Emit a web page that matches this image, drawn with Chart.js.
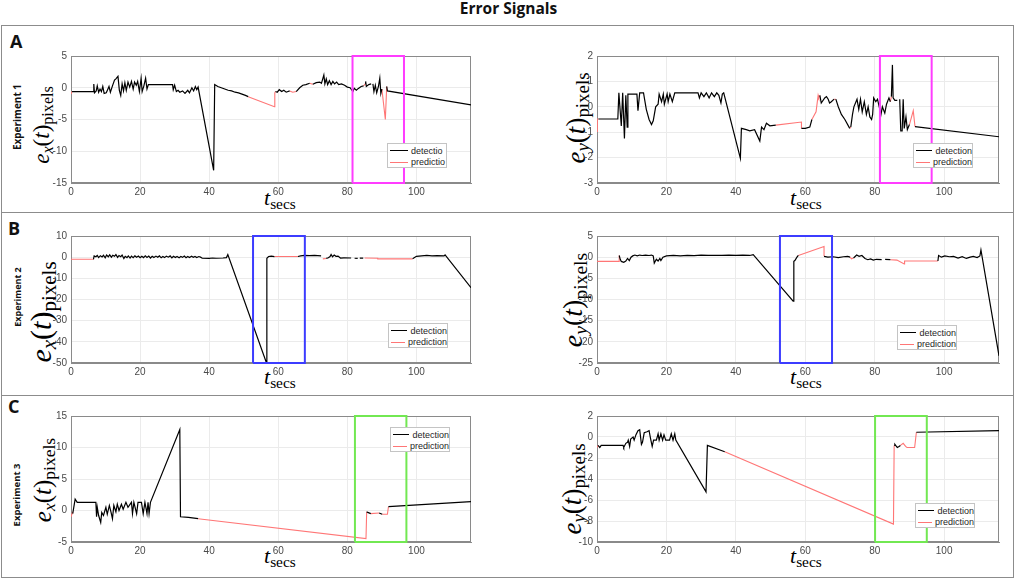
<!DOCTYPE html>
<html>
<head>
<meta charset="utf-8">
<title>Error Signals</title>
<script src="https://cdn.jsdelivr.net/npm/chart.js@4.4.1/dist/chart.umd.min.js"></script>
<style>
    html, body { margin: 0; padding: 0; background: #fff; }
    #fig { position: relative; width: 1017px; height: 580px; overflow: hidden; }
    .title { position: absolute; left: 0; top: 1px; width: 1017px; text-align: center;
             font: 700 15.5px "Open Sans", sans-serif; line-height: 1; color: #111; }
    .row { position: absolute; left: 1px; width: 1013px; box-sizing: border-box; border: 1px solid #8c8c8c; }
    .letter { position: absolute; font: 700 18px "Open Sans", sans-serif; line-height: 1; color: #111; }
    .exp { position: absolute; font-family: "Open Sans", sans-serif; font-weight: 700; color: #111;
           white-space: nowrap; line-height: 1; transform: translate(-50%, -50%) rotate(-90deg); }
    canvas { position: absolute; }
    .ylab { position: absolute; white-space: nowrap; font-family: "Liberation Serif", serif; color: #000;
            line-height: 1; transform: translate(-50%, -50%) rotate(-90deg); }
    .xlab { position: absolute; white-space: nowrap; font-family: "Liberation Serif", serif; color: #000;
            line-height: 1; font-size: 22px; }
    .sub { font-size: 0.7em; vertical-align: -0.25em; }
    .legend { position: absolute; width: 60px; height: 25px; box-sizing: border-box; background: #fff;
              border: 1px solid #c4c4c4; padding: 1px 0 0 2px;
              font: 9px "Liberation Sans", Arial, sans-serif; color: #262626; }
    .legend div { height: 11.5px; display: flex; align-items: center; white-space: nowrap; }
    .legend .swatch { display: inline-block; width: 18px; margin-right: 3px; border-top: 1.5px solid #000; }
    .legend .pred { border-top: 1px solid #ff7676; }
</style>
</head>
<body>
<div id="fig">
    <div class="title">Error Signals</div>

    <div class="row" style="top:25px;height:188px"></div>
    <div class="row" style="top:212px;height:184px"></div>
    <div class="row" style="top:395px;height:183px"></div>

    <div class="letter" style="left:10px;top:32px">A</div>
    <div class="letter" style="left:8px;top:219px">B</div>
    <div class="letter" style="left:8px;top:397px">C</div>

    <div class="exp" style="left:17px;top:117px;font-size:10px">Experiment 1</div>
    <div class="exp" style="left:17px;top:297px;font-size:9px">Experiment 2</div>
    <div class="exp" style="left:17px;top:495px;font-size:9.5px">Experiment 3</div>

    <!-- y axis titles -->
    <div class="ylab" style="left:43px;top:125px;font-size:23px"><i>e</i><span class="sub"><i>x</i></span>(<i>t</i>)<span class="sub">pixels</span></div>
    <div class="ylab" style="left:578px;top:118px;font-size:27px"><i>e</i><span class="sub"><i>y</i></span>(<i>t</i>)<span class="sub">pixels</span></div>
    <div class="ylab" style="left:43px;top:312px;font-size:30px"><i>e</i><span class="sub"><i>x</i></span>(<i>t</i>)<span class="sub">pixels</span></div>
    <div class="ylab" style="left:575px;top:300px;font-size:28px"><i>e</i><span class="sub"><i>y</i></span>(<i>t</i>)<span class="sub">pixels</span></div>
    <div class="ylab" style="left:44px;top:480px;font-size:25px"><i>e</i><span class="sub"><i>x</i></span>(<i>t</i>)<span class="sub">pixels</span></div>
    <div class="ylab" style="left:574px;top:489px;font-size:27px"><i>e</i><span class="sub"><i>y</i></span>(<i>t</i>)<span class="sub">pixels</span></div>

    <!-- x axis titles -->
    <div class="xlab" style="left:264px;top:187px"><i>t</i><span class="sub">secs</span></div>
    <div class="xlab" style="left:790px;top:187px"><i>t</i><span class="sub">secs</span></div>
    <div class="xlab" style="left:264px;top:366px"><i>t</i><span class="sub">secs</span></div>
    <div class="xlab" style="left:790px;top:366px"><i>t</i><span class="sub">secs</span></div>
    <div class="xlab" style="left:264px;top:545px"><i>t</i><span class="sub">secs</span></div>
    <div class="xlab" style="left:790px;top:545px"><i>t</i><span class="sub">secs</span></div>
</div>

<script>
// ---------------- data ----------------
const xMax = 115.8;
const xTickStep = 20;

// axis limits: [min, max, step]
const ex1Limits = [-15, 5, 5];
const ey1Limits = [-3, 2, 1];
const ex2Limits = [-50, 10, 10];
const ey2Limits = [-25, 5, 5];
const ex3Limits = [-5, 15, 5];
const ey3Limits = [-10, 2, 2];

// highlighted time windows [start, end] in secs
const exp1Window = [81.5, 96.4];
const exp2Window = [52.7, 67.7];
const ex3Window = [82.2, 97.1];
const ey3Window = [80.1, 95.0];

// legend labels (as printed in each panel)
const legendShort = ['detectio', 'predictio'];
const legendFull = ['detection', 'prediction'];

// series: [t, error], null = gap
const ex1Detection = [
    [0.3,-0.6],[6.4,-0.6],[6.6,0.6],[6.8,-0.8],[7.3,-0.5],[7.6,0.3],[8.0,-0.7],[8.4,-0.2],[8.8,-0.6],[9.2,0.2],
    [9.6,-0.9],[10.2,-0.8],[10.6,-0.3],[11.0,0.2],[11.4,-0.7],[12.0,0.3],[12.6,1.2],[13.0,1.4],[13.6,1.8],[14.0,-0.4],
    [14.4,-1.2],[14.8,0.6],[15.2,-0.5],[15.6,0.8],[16.0,-0.4],[16.5,0.9],[17.0,0.1],[17.5,1.0],[18.0,-0.2],[18.4,0.9],
    [18.9,0.4],[19.3,1.0],[19.8,-0.6],[20.3,1.5],[20.6,-0.6],[21.1,0.3],[21.6,1.5],[22.0,-0.2],[22.4,0.5],[29.4,0.5],
    [29.6,-0.3],[30.0,0.4],[30.5,-0.6],[31.0,-0.4],[31.5,-0.7],[32.3,-0.5],[33.0,-0.9],[33.8,-0.4],[34.3,-0.8],[35.0,0.0],
    [35.5,-0.5],[36.0,0.2],[36.4,-0.3],[36.8,0.1],[41.3,-13.0],[41.6,0.5],[42.5,0.2],[43.5,0.0],[44.5,-0.2],[45.5,-0.4],
    [46.5,-0.5],[47.5,-0.7],[48.5,-0.8],[49.5,-1.0],[50.5,-1.2],[51.3,-1.4],
    null,
    [59.2,-0.6],[59.7,-0.7],[60.3,-0.3],[61.0,-0.6],[61.6,-0.4],[62.3,-0.7],[63.3,-0.5],
    null,
    [65.2,-0.6],[66.2,0.0],[67.1,0.4],[68.0,0.5],[69.1,0.7],
    null,
    [70.0,0.55],[71.0,0.8],[72.0,0.9],[72.5,0.7],[73.2,2.0],[73.5,0.6],[73.9,1.4],[74.3,0.5],[74.8,1.1],[75.3,0.5],
    [75.8,1.0],[76.3,0.6],[76.9,0.9],[77.5,0.5],[78.3,0.6],[79.2,0.4],[80.0,0.1],[80.8,0.0],[81.6,-0.6],[82.0,-0.1],
    [82.6,-0.4],[83.2,-0.1],[84.0,0.2],[84.7,0.3],
    null,
    [85.2,0.6],[85.3,1.0],[85.5,0.2],[86.2,0.5],[86.9,0.6],
    null,
    [87.4,0.6],[87.7,-0.6],[88.1,0.4],[88.5,-0.8],[89.0,0.2],[89.4,1.5],[89.7,-0.9],[90.0,-0.2],
    null,
    [91.4,0.2],[91.6,-0.5],[115.8,-2.7]
];
const ex1Prediction = [
    [0,-1.0],[0.3,-0.6], null,
    [51.3,-1.4],[58.9,-3.0],[59.0,-0.8],[59.2,-0.6], null,
    [63.3,-0.5],[64.2,-0.7],[65.2,-0.6], null,
    [69.1,0.7],[70.0,0.55], null,
    [84.7,0.3],[85.2,0.6], null,
    [90.0,-0.2],[91.0,-5.0],[91.4,0.2]
];

const ey1Detection = [
    [0.4,-0.48],[6.0,-0.48],[6.3,0.55],[7.0,-0.75],[7.4,0.55],[7.9,-1.25],[8.3,0.45],[8.7,-0.8],[8.9,0.5],[11.5,0.5],
    [11.8,-0.15],[12.3,0.55],[13.4,0.55],[13.7,0.3],[14.2,-0.1],[15.0,-0.5],[15.7,-0.7],[16.2,-0.55],[16.9,0.0],[17.6,0.1],
    [17.9,0.5],[18.6,0.2],[19.1,0.5],[19.4,0.1],[20.2,0.5],[20.5,0.2],[21.0,0.5],[21.7,0.2],[22.4,0.55],[29.1,0.55],
    [29.5,0.35],[30.0,0.55],[30.8,0.4],[31.5,0.55],[32.3,0.35],[33.0,0.55],[33.8,0.4],[34.5,0.55],[35.1,0.45],[35.7,0.15],
    [36.1,0.5],[36.5,0.55],[41.3,-2.03],[41.6,-0.85],[43.0,-0.9],[44.0,-0.95],[45.4,-0.9],[46.9,-1.35],[47.4,-0.8],[48.1,-0.9],
    [48.8,-0.65],[49.8,-0.75],[51.5,-0.72],
    null,
    [58.9,-0.85],[60.0,-0.85],[61.3,-0.8],[61.9,-0.5],
    null,
    [64.2,0.45],[64.6,0.15],[65.6,0.35],[66.1,0.4],[66.6,0.3],[67.0,0.15],[67.5,0.2],[68.3,0.3],
    null,
    [68.8,0.3],[69.5,0.0],[70.4,-0.3],[71.4,-0.5],[72.8,-0.85],
    null,
    [73.1,-0.8],[73.6,-0.3],[74.0,0.0],[74.9,0.3],[75.4,-0.1],[75.9,0.3],[76.4,-0.2],[77.0,0.2],[77.6,-0.3],[78.1,0.0],
    [78.6,-0.4],[79.1,-0.5],[79.4,-0.3],[79.7,0.35],[80.3,0.2],[80.8,0.3],[81.3,0.0],[81.8,-0.3],[82.2,0.0],[82.9,-0.25],
    [83.4,0.1],[84.1,0.35],[84.5,0.2],
    null,
    [84.8,0.4],[85.1,1.65],[85.3,0.35],[85.8,0.25],[86.5,0.25],
    null,
    [87.2,0.3],[87.5,-0.95],[87.9,-0.95],[88.2,0.3],[88.5,-0.85],[89.0,-0.4],[89.4,-0.9],[90.0,-0.7],
    null,
    [91.6,-0.78],[115.8,-1.18]
];
const ey1Prediction = [
    [0,-0.97],[0.1,-0.48],[0.4,-0.48], null,
    [51.5,-0.72],[58.9,-0.6],[58.9,-0.85], null,
    [61.9,-0.5],[63.1,-0.2],[63.7,0.45],[63.9,0.35],[64.2,0.45], null,
    [68.3,0.3],[68.8,0.3], null,
    [72.8,-0.85],[73.1,-0.8], null,
    [84.5,0.2],[84.8,0.4], null,
    [90.0,-0.7],[90.2,-0.6],[91.1,-0.15],[91.6,-0.78]
];

const ex2Detection = [
    [6.5,-1.0],[6.7,0.6],[7.2,0.2],[7.6,0.8],[8.0,-0.2],[8.5,0.7],[9.0,0.1],[9.4,0.9],[9.9,-0.3],[10.3,1.0],
    [10.8,0.2],[11.2,1.1],[11.7,0.0],[12.1,0.9],[12.6,0.4],[13.0,1.2],[13.5,-0.1],[13.9,0.8],[14.4,0.2],[14.8,1.0],
    [15.3,-0.6],[15.7,0.4],[16.2,-0.2],[16.6,0.6],[17.1,-0.4],[17.5,0.5],[18.0,-0.2],[18.5,0.6],[19.0,0.0],[19.5,0.5],
    [20.0,-0.3],[20.5,0.4],[21.0,-0.2],[21.5,0.6],[22.0,-0.1],[22.5,0.5],[23.0,-0.4],[23.5,0.4],[24.0,-0.2],[24.6,0.5],
    [25.1,0.0],[25.6,0.6],[26.1,-0.3],[26.6,0.3],[27.1,-0.2],[27.6,0.5],[28.2,0.0],[28.7,0.6],[29.2,-0.3],[29.7,0.4],
    [30.2,-0.2],[30.7,0.3],[31.3,-0.3],[31.8,0.3],[32.3,-0.1],[32.8,0.5],[33.3,-0.3],[33.8,0.3],[34.3,-0.2],[34.9,0.4],
    [35.4,-0.1],[35.9,0.3],[36.4,-0.2],[37.0,0.3],[37.5,0.0],[38.0,-0.5],[40.0,-0.6],[41.0,-0.4],[42.0,-0.5],[44.0,-0.4],
    [45.0,-0.2],[45.4,1.2],[56.6,-50.0],[56.7,-0.5],[57.2,0.3],[58.0,0.5],[58.9,0.3],
    null,
    [65.7,0.3],[66.5,0.6],[67.5,0.8],[69.0,0.7],[70.5,0.8],[72.4,0.6],
    null,
    [73.9,-0.6],[74.5,-0.3],[75.0,0.3],[75.3,1.3],[75.7,0.2],[76.2,1.0],[76.7,0.4],[77.3,0.5],[78.0,-0.4],[79.0,-0.3],
    [81.1,-0.4],
    null,
    [82.1,-0.5],[83.0,-0.6],
    null,
    [83.6,-0.5],[84.6,-0.5],
    null,
    [98.9,-0.8],[100.0,0.4],[101.5,0.6],[103.0,0.8],[104.5,0.6],[106.0,0.7],[108.0,0.6],[108.3,1.1],[115.8,-14.4]
];
const ex2Prediction = [
    [0,-1.0],[6.5,-1.0], null,
    [58.9,0.3],[65.7,0.3], null,
    [72.9,-0.8],[73.9,-0.6], null,
    [85.0,-0.4],[88.8,-0.5],[88.8,-0.8],[98.9,-0.8]
];

const ey2Detection = [
    [6.4,0.4],[6.7,-0.5],[7.0,-1.0],[7.7,-1.2],[8.3,-0.9],[8.8,-0.3],[9.3,-0.8],[9.8,0.0],[10.3,0.3],[10.9,0.5],
    [11.6,0.3],[12.3,0.5],[13.0,0.4],[14.0,0.5],[15.0,0.4],[15.7,0.5],[16.2,0.3],[16.5,-1.4],[17.1,-0.5],[17.6,-0.9],
    [18.1,-0.3],[18.4,-0.8],[19.0,0.0],[20.0,0.3],[22.0,0.4],[24.0,0.3],[26.0,0.4],[28.0,0.35],[30.0,0.5],[32.0,0.4],
    [34.0,0.45],[36.0,0.4],[38.0,0.5],[40.0,0.4],[42.0,0.5],[44.0,0.4],[45.0,0.6],[56.5,-10.4],[56.7,-1.0],[57.0,-0.8],
    [57.6,0.0],[58.0,0.4],
    null,
    [65.4,0.2],[66.5,0.0],[68.0,0.1],[69.5,-0.1],[71.0,0.1],[72.2,0.2],[72.9,0.0],
    null,
    [73.9,-0.2],[74.8,0.5],[75.5,0.2],[76.3,0.4],[77.2,-0.3],[78.0,-0.6],[78.8,-0.4],[79.6,-0.7],[80.5,-0.5],[82.0,-0.6],
    null,
    [83.0,-0.5],[84.5,-0.6],
    null,
    [98.2,-0.9],[98.4,0.4],[99.2,0.0],[100.2,0.3],[101.5,0.1],[102.7,0.2],[104.0,-0.2],[105.2,0.1],[106.4,-0.3],[107.5,0.0],
    [108.4,0.2],[109.5,-0.1],[110.3,0.3],[110.6,1.7],[115.8,-23.3]
];
const ey2Prediction = [
    [0,-1.0],[6.4,-1.0],[6.4,0.4], null,
    [58.0,0.4],[65.4,2.5],[65.4,0.2], null,
    [72.9,0.0],[73.3,-0.4],[73.9,-0.2], null,
    [84.5,-0.6],[86.4,-0.7],[88.5,-1.6],[88.6,-0.9],[98.2,-0.9]
];

const ex3Detection = [
    [0.5,-0.5],[1.2,1.8],[1.8,1.3],[7.2,1.3],[7.4,-1.0],[7.6,0.5],[8.0,-0.8],[8.6,-1.9],[8.9,-0.3],[9.4,-0.8],
    [10.1,0.5],[10.5,-0.6],[11.1,0.8],[11.6,-0.3],[12.0,-1.3],[12.4,0.8],[13.0,-0.2],[13.4,1.0],[13.9,0.0],[14.6,1.0],
    [15.1,0.2],[15.9,1.3],[16.5,0.5],[17.5,1.3],[17.8,-0.5],[18.2,1.3],[19.0,-0.5],[19.4,1.3],[20.4,1.3],[20.9,-0.5],
    [21.4,1.3],[22.0,-0.5],[22.3,1.3],[22.6,-0.5],[23.0,1.3],[31.5,12.85],[31.7,-1.0],[34.0,-1.1],[36.8,-1.3],
    null,
    [85.6,-0.2],[85.9,-0.3],[86.8,-0.5],
    null,
    [89.2,-0.4],[90.1,-0.6],
    null,
    [91.9,0.6],[115.8,1.4]
];
const ex3Prediction = [
    [0,-1.0],[0.5,-0.2], null,
    [36.8,-1.3],[85.4,-4.47],[85.6,-0.2], null,
    [86.8,-0.5],[89.2,-0.4], null,
    [90.1,-0.6],[91.6,-0.6],[91.9,0.6]
];

const ey3Detection = [
    [0.3,-0.8],[0.8,-1.0],[1.2,-0.8],[7.5,-0.8],[7.7,-1.0],[8.3,-0.6],[8.8,-0.5],[9.0,-0.3],[9.4,-0.9],[9.7,-0.2],
    [10.4,0.0],[10.7,-0.3],[11.2,0.2],[11.8,0.6],[12.3,0.7],[12.8,-0.7],[13.1,-0.5],[13.6,0.4],[14.4,0.5],[15.0,0.6],
    [15.4,-0.1],[15.9,-0.9],[16.3,-0.3],[17.1,-0.3],[17.6,0.3],[17.9,-0.3],[18.4,0.3],[18.9,-0.3],[19.3,0.2],[19.8,-0.3],
    [20.9,-0.3],[21.4,0.3],[21.9,-0.3],[22.4,0.3],[22.7,-0.3],[31.4,-5.23],[31.8,-0.8],[36.8,-1.4],
    null,
    [85.6,-0.8],[85.8,-0.7],[86.5,-1.0],[87.0,-0.9],[87.4,-0.8],
    null,
    [92.0,0.45],[115.8,0.6]
];
const ey3Prediction = [
    [0,-1.0],[0.3,-0.8], null,
    [36.8,-1.4],[85.4,-8.29],[85.6,-0.8], null,
    [87.4,-0.8],[88.2,-0.6],[88.9,-0.9],[89.3,-1.0],[91.5,-1.0],[92.0,0.45]
];

// ---------------- styling / layout ----------------
const DETECTION_COLOR = '#000000';
const PREDICTION_COLOR = '#ff7676';
const GRID_COLOR = '#ebebeb';
const FRAME_COLOR = '#8a8a8a';
const TICK_COLOR = '#4a4a4a';

const columnPlot = [[71, 471], [597, 999]];          // plot area left/right per column
const rowPlot = [[54, 183], [234, 363], [414, 542]];  // plot area top/bottom per row
const Y_AXIS_W = 40, X_AXIS_H = 16, PAD_TOP = 8, PAD_RIGHT = 8;

const panels = [
    { det: ex1Detection, pred: ex1Prediction, limits: ex1Limits, win: exp1Window, winColor: '#ff3cff', row: 0, col: 0, legend: legendShort, legendPos: [387, 143] },
    { det: ey1Detection, pred: ey1Prediction, limits: ey1Limits, win: exp1Window, winColor: '#ff3cff', row: 0, col: 1, legend: legendFull, legendPos: [913, 143] },
    { det: ex2Detection, pred: ex2Prediction, limits: ex2Limits, win: exp2Window, winColor: '#3c3cff', row: 1, col: 0, legend: legendFull, legendPos: [388, 323] },
    { det: ey2Detection, pred: ey2Prediction, limits: ey2Limits, win: exp2Window, winColor: '#3c3cff', row: 1, col: 1, legend: legendFull, legendPos: [897, 325] },
    { det: ex3Detection, pred: ex3Prediction, limits: ex3Limits, win: ex3Window, winColor: '#72e852', row: 2, col: 0, legend: legendFull, legendPos: [390, 427] },
    { det: ey3Detection, pred: ey3Prediction, limits: ey3Limits, win: ey3Window, winColor: '#72e852', row: 2, col: 1, legend: legendFull, legendPos: [915, 503] }
];

/**
 * turn [t, y] pairs into chart points, null keeps a gap in the line
 */
function toPoints(pairs) {
    const points = [];
    let lastX = 0;
    pairs.forEach(p => {
        if (p === null) {
            points.push({ x: lastX, y: null });
        } else {
            lastX = p[0];
            points.push({ x: p[0], y: p[1] });
        }
    });
    return points;
}

/**
 * rectangle around the time window, spanning the full y range
 */
function windowPath(win, limits) {
    const [x0, x1] = win;
    const [yMin, yMax] = limits;
    return [
        { x: x0, y: yMin }, { x: x0, y: yMax },
        { x: x1, y: yMax }, { x: x1, y: yMin }, { x: x0, y: yMin }
    ];
}

// matlab style box around the axes, drawn under the lines
const axesBox = {
    id: 'axesBox',
    beforeDatasetsDraw(chart) {
        const { ctx, chartArea: a } = chart;
        ctx.save();
        ctx.strokeStyle = FRAME_COLOR;
        ctx.lineWidth = 1;
        ctx.strokeRect(a.left + 0.5, a.top + 0.5, a.right - a.left - 1, a.bottom - a.top - 1);
        ctx.restore();
    }
};

function addLegend(fig, panel) {
    const box = document.createElement('div');
    box.className = 'legend';
    box.style.left = panel.legendPos[0] + 'px';
    box.style.top = panel.legendPos[1] + 'px';
    box.innerHTML =
        '<div><span class="swatch"></span>' + panel.legend[0] + '</div>' +
        '<div><span class="swatch pred"></span>' + panel.legend[1] + '</div>';
    fig.appendChild(box);
}

function buildPanel(fig, panel) {
    const [plotL, plotR] = columnPlot[panel.col];
    const [plotT, plotB] = rowPlot[panel.row];
    const canvas = document.createElement('canvas');
    canvas.width = plotR - plotL + Y_AXIS_W + PAD_RIGHT;
    canvas.height = plotB - plotT + PAD_TOP + X_AXIS_H;
    canvas.style.left = (plotL - Y_AXIS_W) + 'px';
    canvas.style.top = (plotT - PAD_TOP) + 'px';
    fig.appendChild(canvas);

    const tickFont = { family: '"Liberation Sans", Arial, sans-serif', size: 10 };
    const [yMin, yMax, yStep] = panel.limits;

    new Chart(canvas, {
        type: 'line',
        data: {
            datasets: [
                { data: windowPath(panel.win, panel.limits), borderColor: panel.winColor, borderWidth: 2, clip: 4 },
                { data: toPoints(panel.det), borderColor: DETECTION_COLOR, borderWidth: 1.2 },
                { data: toPoints(panel.pred), borderColor: PREDICTION_COLOR, borderWidth: 1.1 }
            ]
        },
        options: {
            responsive: false,
            animation: false,
            devicePixelRatio: 1,
            events: [],
            layout: { padding: { top: PAD_TOP, right: PAD_RIGHT, bottom: 0, left: 0 } },
            elements: { point: { radius: 0 }, line: { tension: 0, fill: false } },
            plugins: { legend: { display: false }, tooltip: { enabled: false } },
            scales: {
                x: {
                    type: 'linear', min: 0, max: xMax,
                    afterFit: s => { s.height = X_AXIS_H; },
                    ticks: { stepSize: xTickStep, includeBounds: false, maxRotation: 0, autoSkip: false,
                             padding: 3, color: TICK_COLOR, font: tickFont },
                    grid: { color: GRID_COLOR, drawTicks: false },
                    border: { color: FRAME_COLOR }
                },
                y: {
                    type: 'linear', min: yMin, max: yMax,
                    afterFit: s => { s.width = Y_AXIS_W; },
                    ticks: { stepSize: yStep, includeBounds: false, autoSkip: false,
                             padding: 4, color: TICK_COLOR, font: tickFont },
                    grid: { color: GRID_COLOR, drawTicks: false },
                    border: { color: FRAME_COLOR }
                }
            }
        },
        plugins: [axesBox]
    });

    addLegend(fig, panel);
}

const fig = document.getElementById('fig');
panels.forEach(p => buildPanel(fig, p));
</script>
</body>
</html>
